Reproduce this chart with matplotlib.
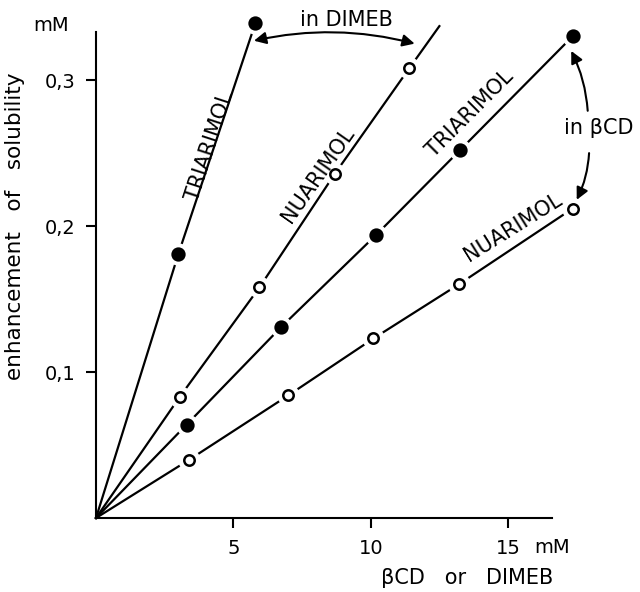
import matplotlib.pyplot as plt
import numpy as np

# cyclodextrin concentration (mM) and solubility enhancement (mM)
tri_dimeb_x = [0.0, 3.0, 5.8]
tri_dimeb_y = [0.0, 0.181, 0.339]
nua_dimeb_x = [0.0, 3.05, 5.95, 8.7, 11.4]
nua_dimeb_y = [0.0, 0.083, 0.158, 0.236, 0.308]
nua_dimeb_end = (12.5, 0.337)
tri_bcd_x = [0.0, 3.3, 6.75, 10.2, 13.25, 17.35]
tri_bcd_y = [0.0, 0.064, 0.131, 0.194, 0.252, 0.330]
nua_bcd_x = [0.0, 3.4, 7.0, 10.1, 13.2, 17.35]
nua_bcd_y = [0.0, 0.040, 0.084, 0.123, 0.160, 0.212]

x_ticks = [5, 10, 15]
x_labels = ["5", "10", "15"]
y_ticks = [0.1, 0.2, 0.3]
y_labels = ["0,1", "0,2", "0,3"]

plt.rcParams["font.family"] = ["DejaVu Sans"]
fs = 14
fl = 15

fig = plt.figure(figsize=(6.4, 5.92), dpi=100)
ax = fig.add_axes([0.15, 0.125, 0.7125, 0.821])
ax.set_xlim(0, 16.6)
ax.set_ylim(0, 0.333)
for s in ["top", "right"]:
    ax.spines[s].set_visible(False)
for s in ["left", "bottom"]:
    ax.spines[s].set_linewidth(1.5)


def series(x, y, filled, end=None):
    xs = list(x)
    ys = list(y)
    if end is not None:
        xs = xs + [end[0]]
        ys = ys + [end[1]]
    ax.plot(xs, ys, color="k", lw=1.6, clip_on=False, zorder=2)
    ax.plot(x[1:], y[1:], ls="none", marker="o", ms=15, mfc="w", mec="w",
            clip_on=False, zorder=3)
    ax.plot(x[1:], y[1:], ls="none", marker="o", ms=8.5 if filled else 7.5,
            mfc="k" if filled else "w", mec="k", mew=1.8, clip_on=False,
            zorder=4)


series(tri_dimeb_x, tri_dimeb_y, True)
series(nua_dimeb_x, nua_dimeb_y, False, nua_dimeb_end)
series(tri_bcd_x, tri_bcd_y, True)
series(nua_bcd_x, nua_bcd_y, False)

ax.set_xticks(x_ticks)
ax.set_xticklabels(x_labels, fontsize=fs)
ax.set_yticks(y_ticks)
ax.set_yticklabels(y_labels, fontsize=fs)
ax.tick_params(direction="out", length=7, width=1.5, pad=8)

ax.text(-0.06, 1.014, "mM", transform=ax.transAxes, fontsize=fs,
        ha="right", va="center")
ax.text(15.95, -0.0205, "mM", fontsize=fs, ha="left", va="center")
ax.text(-0.178, 0.6, "enhancement   of   solubility",
        transform=ax.transAxes, fontsize=15.5, rotation=90, ha="center",
        va="center")
ax.text(13.5, -0.041, "βCD   or   DIMEB", fontsize=15, ha="center",
        va="center")

ax.text(4.15, 0.255, "TRIARIMOL", fontsize=fl, rotation=72,
        ha="center", va="center")
ax.text(8.1, 0.235, "NUARIMOL", fontsize=fl, rotation=55,
        ha="center", va="center")
ax.text(13.6, 0.277, "TRIARIMOL", fontsize=fl, rotation=45,
        ha="center", va="center")
ax.text(15.2, 0.199, "NUARIMOL", fontsize=fl, rotation=32,
        ha="center", va="center")

ax.text(9.1, 0.341, "in DIMEB", fontsize=fl, ha="center", va="center")
ax.annotate("", xy=(5.75, 0.327), xytext=(11.6, 0.325),
            arrowprops=dict(arrowstyle="<|-|>", color="k", lw=1.5,
                            mutation_scale=18,
                            connectionstyle="arc3,rad=0.12",
                            shrinkA=0, shrinkB=0),
            annotation_clip=False)

ax.text(18.3, 0.267, "in βCD", fontsize=fl, ha="center", va="center")
ax.annotate("", xy=(17.3, 0.320), xytext=(17.9, 0.279),
            arrowprops=dict(arrowstyle="-|>", color="k", lw=1.5,
                            mutation_scale=18,
                            connectionstyle="arc3,rad=0.1",
                            shrinkA=0, shrinkB=0),
            annotation_clip=False)
ax.annotate("", xy=(17.5, 0.218), xytext=(17.95, 0.250),
            arrowprops=dict(arrowstyle="-|>", color="k", lw=1.5,
                            mutation_scale=18,
                            connectionstyle="arc3,rad=-0.1",
                            shrinkA=0, shrinkB=0),
            annotation_clip=False)

fig.savefig("out.png", dpi=100)
